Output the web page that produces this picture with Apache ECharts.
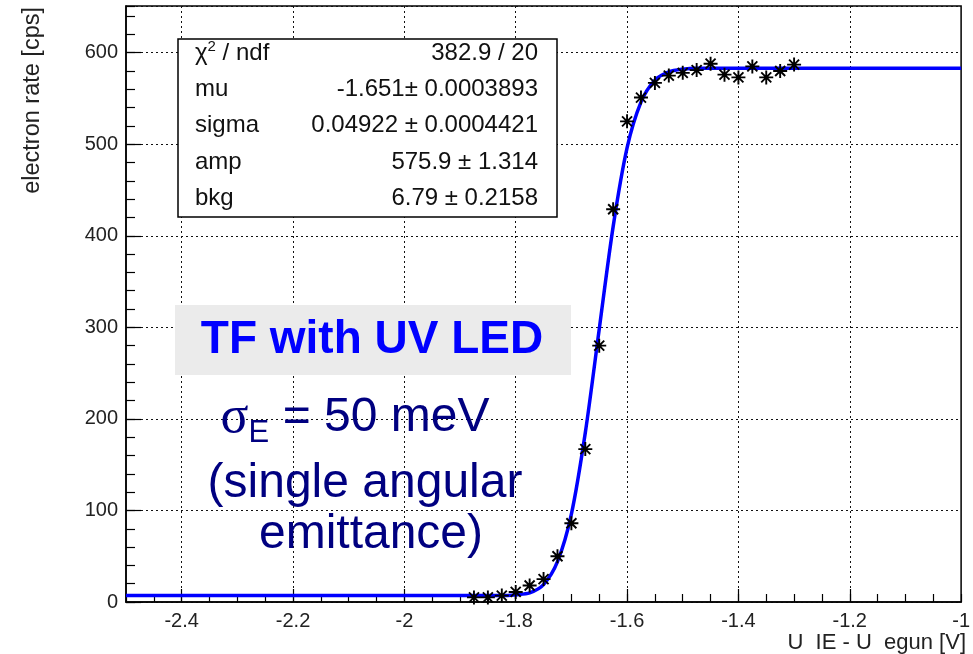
<!DOCTYPE html>
<html>
<head>
<meta charset="utf-8">
<script src="https://cdn.jsdelivr.net/npm/echarts@6/dist/echarts.min.js"></script>
<style>
  html, body { margin: 0; padding: 0; background: #fff; }
  #chart { width: 973px; height: 654px; }
</style>
</head>
<body>
<div id="chart"></div>
<script>
// measured electron rate (cps) vs U_IE - U_egun (V)
const rateX = [-1.875, -1.85, -1.825, -1.8, -1.775, -1.75, -1.725, -1.7, -1.675, -1.65, -1.625, -1.6,
  -1.575, -1.55, -1.525, -1.5, -1.475, -1.45, -1.425, -1.4, -1.375, -1.35, -1.325, -1.3];
const rateY = [5, 5, 7, 11, 18, 25, 50, 86, 167, 280, 429, 525,
  551, 567, 575, 578, 581, 588, 576, 573, 585, 573, 580, 587];

// fitted error-function curve
const fitX = [-2.5, -1.85, -1.825, -1.8, -1.775, -1.75, -1.725, -1.7, -1.675, -1.65, -1.625, -1.6,
  -1.575, -1.55, -1.525, -1.5, -1.475, -1.45, -1.0];
const fitY = [7, 7, 7, 8, 10, 19, 44, 96, 185, 298, 410, 496,
  546, 570, 579, 582, 583, 583, 583];

const xLabels = [-2.4, -2.2, -2, -1.8, -1.6, -1.4, -1.2, -1];
const xMajorTicks = [-2.4, -2.2, -2, -1.8, -1.6, -1.4, -1.2];

const statRows = [
  ['{a|χ}{s|2}{a| / ndf}', '382.9 / 20'],
  ['mu', '-1.651± 0.0003893'],
  ['sigma', '0.04922 ± 0.0004421'],
  ['amp', '575.9 ± 1.314'],
  ['bkg', '6.79 ± 0.2158'],
];

const FONT = "'Liberation Sans', Arial, Helvetica, sans-serif";
const STAR = 'path://M0,7L14,7M7,0L7,14M2,2L12,12M2,12L12,2';
const NAVY = '#000080';

const chart = echarts.init(document.getElementById('chart'), null, { renderer: 'canvas' });

const statGraphics = [{
  type: 'rect',
  z: 100,
  shape: { x: 178, y: 39, width: 379, height: 178 },
  style: { fill: '#fff', stroke: '#000', lineWidth: 1.5 },
}];
statRows.forEach(([name, val], i) => {
  const y = 53 + i * 36.3;
  statGraphics.push({
    type: 'text', z: 101, x: 195, y,
    style: {
      text: name, fontFamily: FONT, fontSize: 24, fill: '#111',
      align: 'left', verticalAlign: 'middle',
      rich: {
        a: { fontFamily: FONT, fontSize: 24, fill: '#111' },
        s: { fontFamily: FONT, fontSize: 15, fill: '#111', padding: [0, 0, 12, 0] },
      },
    },
  });
  statGraphics.push({
    type: 'text', z: 101, x: 538, y,
    style: { text: val, fontFamily: FONT, fontSize: 24, fill: '#111', align: 'right', verticalAlign: 'middle' },
  });
});

chart.setOption({
  animation: false,
  grid: { left: 126, right: 7, top: 6, bottom: 52, show: true, borderColor: '#000', borderWidth: 1.5 },
  xAxis: [
    {
      type: 'value', min: -2.5, max: -1, position: 'bottom',
      axisLine: { onZero: false, lineStyle: { color: '#000', width: 1.5 } },
      axisTick: { inside: true, length: 13, customValues: xMajorTicks, lineStyle: { color: '#000', width: 1.2 } },
      axisLabel: {
        customValues: xLabels, margin: 9, fontSize: 20, color: '#222', fontFamily: FONT,
        formatter: (v) => String(Math.round(v * 10) / 10),
      },
      splitLine: { show: true, lineStyle: { type: [2, 3], color: '#111', width: 1 } },
    },
    {
      type: 'value', min: -2.5, max: -1, interval: 0.05, position: 'bottom',
      axisLine: { show: false, onZero: false },
      axisTick: { inside: true, length: 8, lineStyle: { color: '#000', width: 1.2 } },
      axisLabel: { show: false },
      splitLine: { show: false },
    },
  ],
  yAxis: [
    {
      type: 'value', min: 0, max: 651, interval: 100, position: 'left',
      axisLine: { show: true, lineStyle: { color: '#000', width: 1.5 } },
      axisTick: { show: true, inside: true, length: 15, lineStyle: { color: '#000', width: 1.2 } },
      axisLabel: { showMaxLabel: false, margin: 8, fontSize: 20, color: '#222', fontFamily: FONT },
      splitLine: { show: true, lineStyle: { type: [2, 3], color: '#111', width: 1 } },
    },
    {
      type: 'value', min: 0, max: 651, interval: 20, position: 'left',
      axisLine: { show: false },
      axisTick: { show: true, inside: true, length: 9, lineStyle: { color: '#000', width: 1.2 } },
      axisLabel: { show: false },
      splitLine: { show: false },
    },
  ],
  series: [
    {
      type: 'line', name: 'fit', xAxisIndex: 0, yAxisIndex: 0,
      data: fitX.map((x, i) => [x, fitY[i]]),
      showSymbol: false, smooth: 0.3, z: 3,
      lineStyle: { color: '#0000ff', width: 3.5 },
    },
    {
      type: 'scatter', name: 'data', xAxisIndex: 0, yAxisIndex: 0,
      data: rateX.map((x, i) => [x, rateY[i]]),
      symbol: STAR, symbolSize: 14, z: 4,
      itemStyle: { color: 'none', borderColor: '#000', borderWidth: 1.9, opacity: 1 },
    },
  ],
  graphic: [
    ...statGraphics,
    {
      type: 'text', z: 101, x: 33, y: 7, rotation: Math.PI / 2,
      style: { text: 'electron rate [cps]', fontFamily: FONT, fontSize: 23.5, fill: '#222', align: 'right', verticalAlign: 'middle' },
    },
    {
      type: 'text', z: 101, x: 966, y: 643,
      style: { text: 'U  IE - U  egun [V]', fontFamily: FONT, fontSize: 22, fill: '#222', align: 'right', verticalAlign: 'middle' },
    },
    {
      type: 'rect', z: 100,
      shape: { x: 175, y: 305, width: 396, height: 70 },
      style: { fill: '#ebebeb' },
    },
    {
      type: 'text', z: 101, x: 372, y: 340,
      style: { text: 'TF with UV LED', fontFamily: FONT, fontWeight: 'bold', fontSize: 46, fill: '#0000ff', align: 'center', verticalAlign: 'middle' },
    },
    {
      type: 'text', z: 101, x: 355, y: 418,
      style: {
        text: '{g|σ}{e|E}{t| = 50 meV}', align: 'center', verticalAlign: 'middle',
        rich: {
          g: { fontFamily: "'Liberation Serif', 'DejaVu Serif', serif", fontSize: 52, fill: NAVY },
          e: { fontFamily: FONT, fontSize: 31, fill: NAVY, padding: [30, 0, 0, 0] },
          t: { fontFamily: FONT, fontSize: 48, fill: NAVY },
        },
      },
    },
    {
      type: 'text', z: 101, x: 365, y: 484,
      style: { text: '(single angular', fontFamily: FONT, fontSize: 48, fill: NAVY, align: 'center', verticalAlign: 'middle' },
    },
    {
      type: 'text', z: 101, x: 371, y: 535,
      style: { text: 'emittance)', fontFamily: FONT, fontSize: 48, fill: NAVY, align: 'center', verticalAlign: 'middle' },
    },
  ],
});
</script>
</body>
</html>
